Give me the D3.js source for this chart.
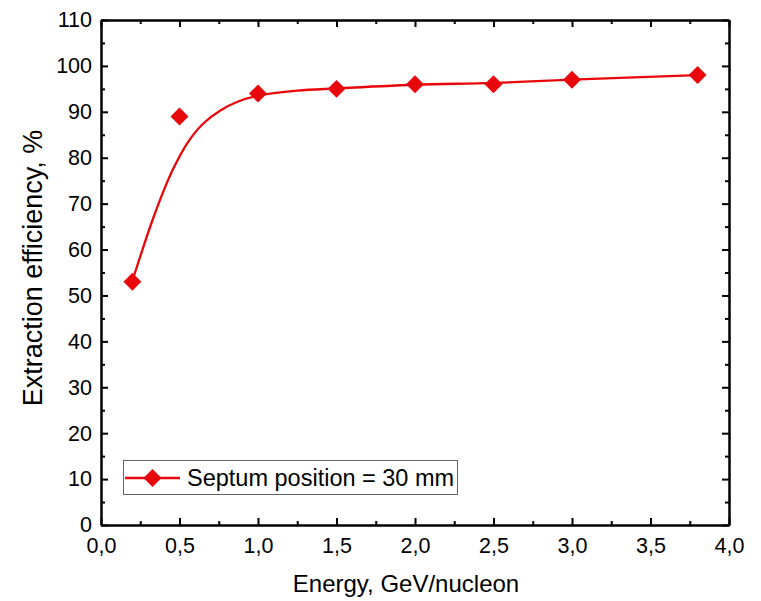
<!DOCTYPE html>
<html><head><meta charset="utf-8">
<script src="https://cdn.jsdelivr.net/npm/d3@7"></script>
<style>body{margin:0;background:#fff}text{font-family:"Liberation Sans",Arial,sans-serif;fill:#000}</style>
</head><body>
<svg id="c" width="761" height="601"></svg>
<script>
// measured points
const energy = [0.2, 0.5, 1.0, 1.5, 2.0, 2.5, 3.0, 3.8];
const efficiency = [53, 89, 94, 95, 96, 96, 97, 98];
// fitted curve
const fitEnergy = [0.2, 0.27, 0.33, 0.4, 0.46, 0.55, 0.65, 0.76, 0.87, 1.0, 1.25, 1.5, 2.0, 2.5, 3.0, 3.8];
const fitEff    = [53.2, 60.6, 66.6, 72.9, 77.6, 83.2, 87.4, 90.3, 92.2, 93.5, 94.6, 95.1, 95.9, 96.3, 97.0, 98.0];
const xTicks = [0, 0.5, 1.0, 1.5, 2.0, 2.5, 3.0, 3.5, 4.0];
const yTicks = [0, 10, 20, 30, 40, 50, 60, 70, 80, 90, 100, 110];
const seriesLabel = "Septum position = 30 mm";
const xTitle = "Energy, GeV/nucleon";
const yTitle = "Extraction efficiency, %";

const svg = d3.select("#c");
const L = 101, R = 729, T = 20, B = 525;
const x = d3.scaleLinear().domain([0, 4]).range([L, R]);
const y = d3.scaleLinear().domain([0, 110]).range([B, T]);
const red = "#e8070b";
const fmt = d => d3.format(".1f")(d).replace(".", ",");

const xMinor = d3.range(0.25, 4, 0.5);
const yMinor = d3.range(5, 110, 10);

// axes (ticks inward)
const gB = svg.append("g").attr("transform", `translate(0,${B})`);
gB.call(d3.axisBottom(x).tickValues(xTicks).tickSizeInner(-7).tickSizeOuter(0).tickFormat(fmt));
gB.append("g").call(d3.axisBottom(x).tickValues(xMinor).tickSizeInner(-4).tickSizeOuter(0).tickFormat(""));
const gT = svg.append("g").attr("transform", `translate(0,${T})`);
gT.call(d3.axisTop(x).tickValues(xTicks).tickSizeInner(-7).tickSizeOuter(0).tickFormat(""));
gT.append("g").call(d3.axisTop(x).tickValues(xMinor).tickSizeInner(-4).tickSizeOuter(0).tickFormat(""));
const gL = svg.append("g").attr("transform", `translate(${L},0)`);
gL.call(d3.axisLeft(y).tickValues(yTicks).tickSizeInner(-7).tickSizeOuter(0).tickFormat(d3.format("d")));
gL.append("g").call(d3.axisLeft(y).tickValues(yMinor).tickSizeInner(-4).tickSizeOuter(0).tickFormat(""));
const gR = svg.append("g").attr("transform", `translate(${R},0)`);
gR.call(d3.axisRight(y).tickValues(yTicks).tickSizeInner(-7).tickSizeOuter(0).tickFormat(""));
gR.append("g").call(d3.axisRight(y).tickValues(yMinor).tickSizeInner(-4).tickSizeOuter(0).tickFormat(""));

svg.selectAll(".domain").attr("stroke", "#000").attr("stroke-width", 2);
svg.selectAll(".tick line").attr("stroke", "#000").attr("stroke-width", 2);
svg.selectAll(".tick text").style("font-size", "21.5px").style("font-family", '"Liberation Sans",Arial,sans-serif');
gB.selectAll(".tick text").attr("dy", "0.71em").attr("y", 13);
gL.selectAll(".tick text").attr("x", -9);

// fitted curve
const fit = fitEnergy.map((e, i) => [e, fitEff[i]]);
svg.append("path").datum(fit)
  .attr("fill", "none").attr("stroke", red).attr("stroke-width", 2.3)
  .attr("d", d3.line().x(d => x(d[0])).y(d => y(d[1])).curve(d3.curveCatmullRom.alpha(0.5)));

// markers
const diamond = d3.symbol().type(d3.symbolDiamond2).size(205);
svg.selectAll(".pt").data(energy.map((e, i) => [e, efficiency[i]])).join("path")
  .attr("class", "pt").attr("fill", red)
  .attr("transform", d => `translate(${x(d[0])},${y(d[1])})`)
  .attr("d", diamond);

// legend
const lg = svg.append("g");
lg.append("rect").attr("x", 123.5).attr("y", 460.5).attr("width", 334).attr("height", 34)
  .attr("fill", "#fff").attr("stroke", "#666").attr("stroke-width", 1);
lg.append("line").attr("x1", 125).attr("x2", 180).attr("y1", 478).attr("y2", 478)
  .attr("stroke", red).attr("stroke-width", 2.3);
lg.append("path").attr("transform", "translate(152.5,478)").attr("d", diamond).attr("fill", red);
lg.append("text").attr("x", 187).attr("y", 486).style("font-size", "23.5px").text(seriesLabel);

// titles
svg.append("text").attr("x", 406).attr("y", 592).attr("text-anchor", "middle")
  .style("font-size", "24px").text(xTitle);
svg.append("text").attr("transform", "translate(42,268) rotate(-90)").attr("text-anchor", "middle")
  .style("font-size", "27px").text(yTitle);
</script>
</body></html>
